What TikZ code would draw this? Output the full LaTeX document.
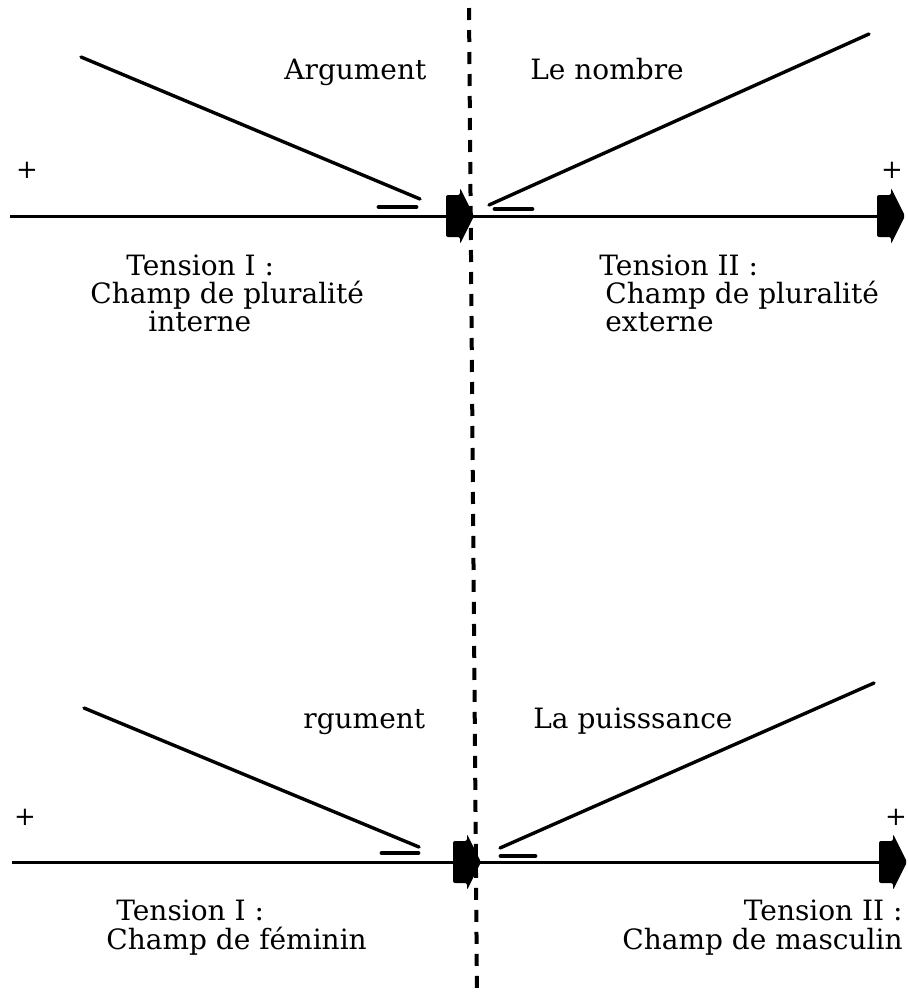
\documentclass[tikz,border=0pt]{standalone}
\usepackage{fontspec}
\setmainfont{DejaVu Serif}
\begin{document}
\begin{tikzpicture}[x=0.5pt,y=-0.5pt,
  lbl/.style={font=\fontsize{14}{16}\selectfont, inner sep=0pt},
  plus/.style={font=\fontsize{13}{15}\selectfont, inner sep=0pt},
  axisline/.style={line width=1.5pt},
  diag/.style={line width=1.7pt, line cap=round},
  tick/.style={line width=2.4pt, line cap=round},
  vdash/.style={line width=2pt, dash pattern=on 6pt off 5pt},
  blockarrow/.pic={\fill[rounded corners=1pt] (0,-21) -- (14,-21) -- (14,-28) -- (28,0) -- (14,28) -- (14,21) -- (0,21) -- cycle;}
]
\useasboundingbox (0,0) rectangle (907,997);

% vertical dashed separator
\coordinate (vt) at (469,8);
\coordinate (vb) at (477,997);
\draw[vdash] (vt) -- (vb);

% ---------- top diagram ----------
\coordinate (tl0) at (10,216);
\coordinate (tc) at (446,216);
\coordinate (tr) at (877,216);
\draw[axisline] (tl0) -- (tr);
\pic at (tc) {blockarrow};
\pic at (tr) {blockarrow};

\coordinate (tda) at (81,57);
\coordinate (tdb) at (420,199);
\draw[diag] (tda) -- (tdb);
\coordinate (tdc) at (489,205);
\coordinate (tdd) at (869,34);
\draw[diag] (tdc) -- (tdd);

\coordinate (tka) at (379,207);
\coordinate (tkb) at (416,207);
\draw[tick] (tka) -- (tkb);
\coordinate (tkc) at (495,209);
\coordinate (tkd) at (532,209);
\draw[tick] (tkc) -- (tkd);

\node[plus] (tp1) at (27,170) {+};
\node[plus] (tp2) at (892,170) {+};

\node[lbl, anchor=base west] (targ) at (284,79) {Argument};
\node[lbl, anchor=base west] (tnom) at (530,79) {Le nombre};

\node[lbl, anchor=base west] (tt1) at (126,275) {Tension I :};
\node[lbl, anchor=base west] (tc1) at (90,303) {Champ de pluralité};
\node[lbl, anchor=base west] (ti1) at (148,331) {interne};

\node[lbl, anchor=base west] (tt2) at (599,275) {Tension II :};
\node[lbl, anchor=base west] (tc2) at (605,303) {Champ de pluralité};
\node[lbl, anchor=base west] (te2) at (605,331) {externe};

% ---------- bottom diagram ----------
\coordinate (bl0) at (12,862);
\coordinate (bc) at (453,862);
\coordinate (br) at (879,862);
\draw[axisline] (bl0) -- (br);
\pic at (bc) {blockarrow};
\pic at (br) {blockarrow};

\coordinate (bda) at (84,708);
\coordinate (bdb) at (419,847);
\draw[diag] (bda) -- (bdb);
\coordinate (bdc) at (500,848);
\coordinate (bdd) at (874,683);
\draw[diag] (bdc) -- (bdd);

\coordinate (bka) at (382,853);
\coordinate (bkb) at (418,853);
\draw[tick] (bka) -- (bkb);
\coordinate (bkc) at (501,856);
\coordinate (bkd) at (535,856);
\draw[tick] (bkc) -- (bkd);

\node[plus] (bp1) at (25,817) {+};
\node[plus] (bp2) at (896,817) {+};

\node[lbl, anchor=base west] (barg) at (303,728) {rgument};
\node[lbl, anchor=base west] (bpui) at (533,728) {La puisssance};

\node[lbl, anchor=base west] (bt1) at (116,920) {Tension I :};
\node[lbl, anchor=base west] (bc1) at (106,949) {Champ de féminin};

\node[lbl, anchor=base east] (bt2) at (903,920) {Tension II :};
\node[lbl, anchor=base east] (bc2) at (903,949) {Champ de masculin};
\end{tikzpicture}
\end{document}
